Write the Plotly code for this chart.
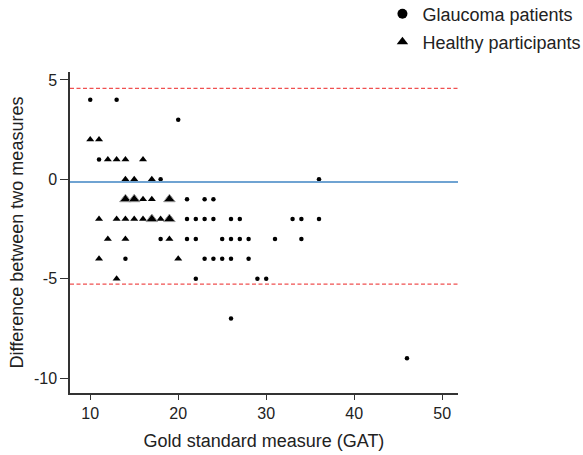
import plotly.graph_objects as go
from collections import Counter

# ---- data ----
glaucoma_x = [10, 13, 20, 11, 18, 36, 21, 23, 24, 21, 22, 23, 24, 26, 27, 33, 34, 36,
              18, 21, 22, 25, 26, 27, 28, 31, 34, 14, 23, 24, 25, 26, 28, 22, 29, 30, 26, 46]
glaucoma_y = [4, 4, 3, 1, 0, 0, -1, -1, -1, -2, -2, -2, -2, -2, -2, -2, -2, -2,
              -3, -3, -3, -3, -3, -3, -3, -3, -3, -4, -4, -4, -4, -4, -4, -5, -5, -5, -7, -9]

healthy_x = [10, 11, 12, 13, 14, 16, 14, 15, 17, 14, 14, 15, 15, 16, 17, 19, 19,
             11, 13, 14, 15, 16, 17, 17, 18, 19, 19, 12, 14, 19, 11, 20, 13]
healthy_y = [2, 2, 1, 1, 1, 1, 0, 0, 0, -1, -1, -1, -1, -1, -1, -1, -1,
             -2, -2, -2, -2, -2, -2, -2, -2, -2, -2, -3, -3, -3, -4, -4, -5]

mean_diff = -0.13
upper_loa = 4.58
lower_loa = -5.27

x_ticks = [10, 20, 30, 40, 50]
y_ticks = [5, 0, -5, -10]
y_ticklabels = ["5", "0", "-5", "-10"]

FONT = "Liberation Sans, Arial, sans-serif"

fig = go.Figure()

fig.add_trace(go.Scatter(
    x=glaucoma_x, y=glaucoma_y, mode="markers",
    marker=dict(symbol="circle", size=4.5, color="black"),
    showlegend=False, name="Glaucoma patients"))

# healthy: duplicates drawn as larger triangles
cnt = Counter(zip(healthy_x, healthy_y))
single = [k for k, v in cnt.items() if v == 1]
multi = [k for k, v in cnt.items() if v > 1]
fig.add_trace(go.Scatter(
    x=[k[0] for k in single], y=[k[1] for k in single], mode="markers",
    marker=dict(symbol="triangle-up", size=7, color="black"),
    showlegend=False))
fig.add_trace(go.Scatter(
    x=[k[0] for k in multi], y=[k[1] for k in multi], mode="markers",
    marker=dict(symbol="triangle-up", size=10, color="black",
                line=dict(color="#999999", width=1)),
    showlegend=False))

# legend-only traces
fig.add_trace(go.Scatter(x=[None], y=[None], mode="markers", name="Glaucoma patients",
                         marker=dict(symbol="circle", size=10, color="black"),
                         legend="legend"))
fig.add_trace(go.Scatter(x=[None], y=[None], mode="markers", name="Healthy participants",
                         marker=dict(symbol="triangle-up", size=10, color="black"),
                         legend="legend2"))

fig.add_shape(type="line", xref="paper", x0=0, x1=1, yref="y", y0=mean_diff, y1=mean_diff,
              line=dict(color="#6fa3d2", width=2))
for v in (upper_loa, lower_loa):
    fig.add_shape(type="line", xref="paper", x0=0, x1=1, yref="y", y0=v, y1=v,
                  line=dict(color="#f05050", width=1.3, dash="4px,2.5px"))

fig.update_layout(
    width=583, height=455,
    margin=dict(l=70, r=125, t=72, b=62, autoexpand=False),
    paper_bgcolor="white", plot_bgcolor="white",
    font=dict(family=FONT, size=16, color="#222222"),
    legend=dict(xref="container", yref="container", x=0.656, y=1 - 14 / 455,
                xanchor="left", yanchor="middle",
                font=dict(size=18, family=FONT, color="#222222"),
                bgcolor="rgba(0,0,0,0)"),
    legend2=dict(xref="container", yref="container", x=0.656, y=1 - 42 / 455,
                 xanchor="left", yanchor="middle",
                 font=dict(size=18, family=FONT, color="#222222"),
                 bgcolor="rgba(0,0,0,0)"),
    xaxis=dict(range=[7.7, 51.8], tickvals=x_ticks, ticks="outside", ticklen=5,
               tickcolor="#333333", showline=True, linecolor="#333333", linewidth=1.5,
               showgrid=False, zeroline=False,
               title=dict(text="Gold standard measure (GAT)", font=dict(size=18), standoff=13)),
    yaxis=dict(range=[-10.75, 5.4], tickvals=y_ticks, ticktext=y_ticklabels,
               ticks="outside", ticklen=8, tickcolor="#333333",
               showline=True, linecolor="#333333", linewidth=1.5,
               showgrid=False, zeroline=False,
               title=dict(text="Difference between two measures", font=dict(size=18), standoff=6)),
)

fig.write_html("out.html", config={"displayModeBar": False},
               post_script="document.body.style.margin='0';")
